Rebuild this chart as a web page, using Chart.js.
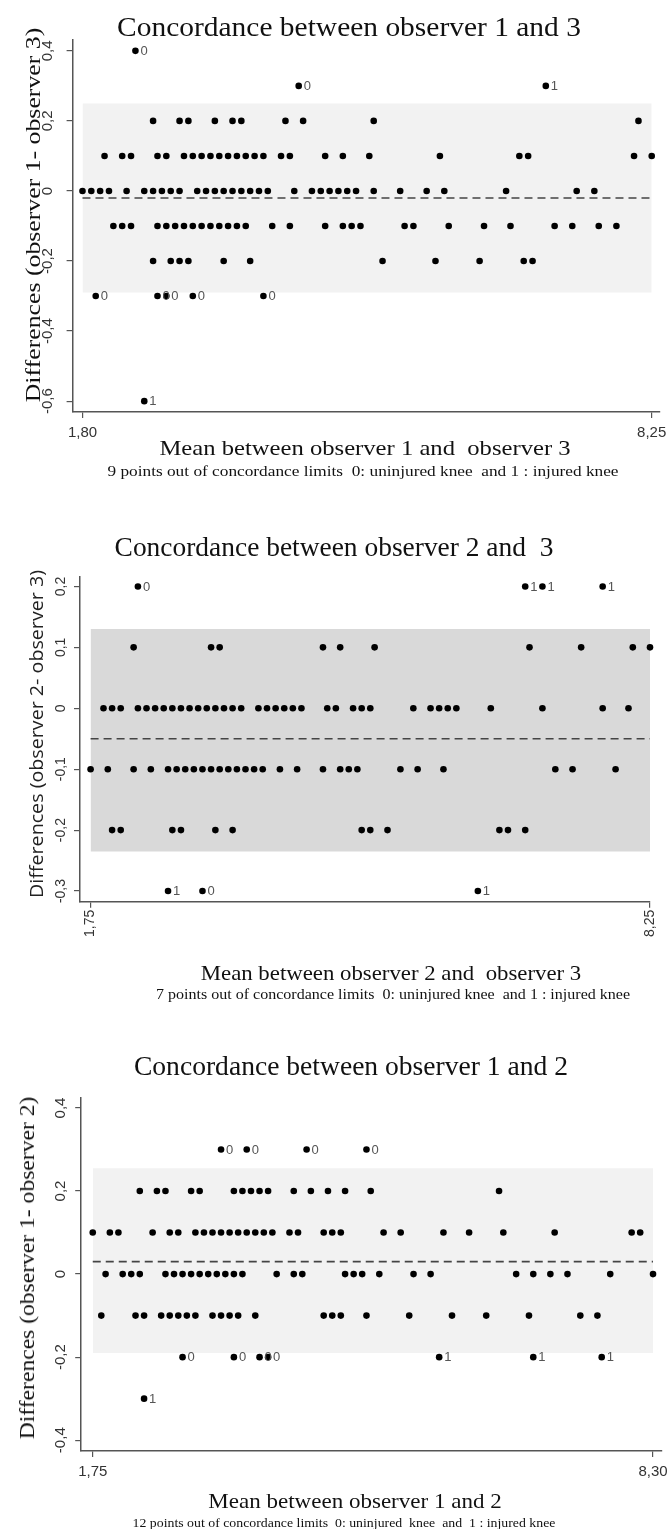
<!DOCTYPE html>
<html><head><meta charset="utf-8">
<script src="https://cdn.jsdelivr.net/npm/chart.js@4.4.0/dist/chart.umd.min.js"></script>
<style>
html,body{margin:0;padding:0;background:#fff;}
#page{position:relative;width:667px;height:1529px;overflow:hidden;background:#fff;}
canvas{position:absolute;left:0;}
.t{position:absolute;white-space:nowrap;line-height:1;color:#111;font-family:"Liberation Serif","Times New Roman",serif;transform-origin:50% 50%;}
.s{font-family:"Open Sans","Liberation Sans",sans-serif;color:#222;}
</style></head><body><div id="page">
<canvas id="c1" width="667" height="500" style="top:0px"></canvas>
<canvas id="c2" width="667" height="510" style="top:500px"></canvas>
<canvas id="c3" width="667" height="519" style="top:1010px"></canvas>

<div class="t" style="font-size:28px" data-cx="349" data-cy="27" data-w="464">Concordance between observer 1 and 3</div>
<div class="t" style="font-size:20px" data-cx="33" data-cy="215" data-w="375" data-rot="-90">Differences (observer 1- observer 3)</div>
<div class="t" style="font-size:22px" data-cx="365" data-cy="448" data-w="411">Mean between observer 1 and&nbsp; observer 3</div>
<div class="t" style="font-size:14px" data-cx="363" data-cy="472" data-w="511">9 points out of concordance limits&nbsp; 0: uninjured knee&nbsp; and 1 : injured knee</div>

<div class="t" style="font-size:27px" data-cx="334" data-cy="547" data-w="439">Concordance between observer 2 and&nbsp; 3</div>
<div class="t s" style="font-size:18px" data-cx="36" data-cy="734" data-w="328" data-rot="-90">Differences (observer 2- observer 3)</div>
<div class="t" style="font-size:21px" data-cx="391" data-cy="973" data-w="380">Mean between observer 2 and&nbsp; observer 3</div>
<div class="t" style="font-size:14px" data-cx="393" data-cy="995" data-w="474">7 points out of concordance limits&nbsp; 0: uninjured knee&nbsp; and 1 : injured knee</div>

<div class="t" style="font-size:27px" data-cx="351" data-cy="1066" data-w="434">Concordance between observer 1 and 2</div>
<div class="t" style="font-size:20px" data-cx="27" data-cy="1268" data-w="343" data-rot="-90">Differences (observer 1- observer 2)</div>
<div class="t" style="font-size:22px" data-cx="355" data-cy="1501" data-w="293">Mean between observer 1 and 2</div>
<div class="t" style="font-size:12px" data-cx="344" data-cy="1523" data-w="423">12 points out of concordance limits&nbsp; 0: uninjured&nbsp; knee&nbsp; and&nbsp; 1 : injured knee</div>
</div>
<script>
// ---------------- DATA ----------------
// Chart 1: observer 1 vs 3
const c1XTicks = [1.80, 8.25];
const c1XTickLabels = ['1,80', '8,25'];
const c1YTicks = [-0.6, -0.4, -0.2, 0, 0.2, 0.4];
const c1YTickLabels = ['-0,6', '-0,4', '-0,2', '0', '0,2', '0,4'];
const c1Bias = -0.02;
const c1Limits = [-0.29, 0.25];
const c1Row_p02 = [2.6, 2.9, 3.0, 3.3, 3.5, 3.6, 4.1, 4.3, 5.1, 8.1];
const c1Row_p01 = [2.05, 2.25, 2.35, 2.65, 2.75, 2.95, 3.05, 3.15, 3.25, 3.35, 3.45, 3.55, 3.65, 3.75, 3.85, 4.05, 4.15, 4.55, 4.75, 5.05, 5.85, 6.75, 6.85, 8.05, 8.25];
const c1Row_0 = [1.8, 1.9, 2.0, 2.1, 2.3, 2.5, 2.6, 2.7, 2.8, 2.9, 3.1, 3.2, 3.3, 3.4, 3.5, 3.6, 3.7, 3.8, 3.9, 4.2, 4.4, 4.5, 4.6, 4.7, 4.8, 4.9, 5.1, 5.4, 5.7, 5.9, 6.6, 7.4, 7.6];
const c1Row_m01 = [2.15, 2.25, 2.35, 2.65, 2.75, 2.85, 2.95, 3.05, 3.15, 3.25, 3.35, 3.45, 3.55, 3.65, 3.95, 4.15, 4.55, 4.75, 4.85, 4.95, 5.45, 5.55, 5.95, 6.35, 6.65, 7.15, 7.35, 7.65, 7.85];
const c1Row_m02 = [2.6, 2.8, 2.9, 3.0, 3.4, 3.7, 5.2, 5.8, 6.3, 6.8, 6.9];
const c1OutMean = [2.4, 4.25, 7.05, 1.95, 2.65, 2.75, 3.05, 3.85, 2.5];
const c1OutDiff = [0.4, 0.3, 0.3, -0.3, -0.3, -0.3, -0.3, -0.3, -0.6];
const c1OutKnee = ['0', '0', '1', '0', '0', '0', '0', '0', '1'];

// Chart 2: observer 2 vs 3
const c2XTicks = [1.75, 8.25];
const c2XTickLabels = ['1,75', '8,25'];
const c2YTicks = [-0.3, -0.2, -0.1, 0, 0.1, 0.2];
const c2YTickLabels = ['-0,3', '-0,2', '-0,1', '0', '0,1', '0,2'];
const c2Bias = -0.05;
const c2Limits = [-0.235, 0.13];
const c2Row_p01 = [2.25, 3.15, 3.25, 4.45, 4.65, 5.05, 6.85, 7.45, 8.05, 8.25];
const c2Row_0 = [1.9, 2.0, 2.1, 2.3, 2.4, 2.5, 2.6, 2.7, 2.8, 2.9, 3.0, 3.1, 3.2, 3.3, 3.4, 3.5, 3.7, 3.8, 3.9, 4.0, 4.1, 4.2, 4.5, 4.6, 4.8, 4.9, 5.0, 5.5, 5.7, 5.8, 5.9, 6.0, 6.4, 7.0, 7.7, 8.0];
const c2Row_m01 = [1.75, 1.95, 2.25, 2.45, 2.65, 2.75, 2.85, 2.95, 3.05, 3.15, 3.25, 3.35, 3.45, 3.55, 3.65, 3.75, 3.95, 4.15, 4.45, 4.65, 4.75, 4.85, 5.35, 5.55, 5.85, 7.15, 7.35, 7.85];
const c2Row_m02 = [2.0, 2.1, 2.7, 2.8, 3.2, 3.4, 4.9, 5.0, 5.2, 6.5, 6.6, 6.8];
const c2OutMean = [2.3, 6.8, 7.0, 7.7, 2.65, 3.05, 6.25];
const c2OutDiff = [0.2, 0.2, 0.2, 0.2, -0.3, -0.3, -0.3];
const c2OutKnee = ['0', '1', '1', '1', '1', '0', '1'];

// Chart 3: observer 1 vs 2
const c3XTicks = [1.75, 8.30];
const c3XTickLabels = ['1,75', '8,30'];
const c3YTicks = [-0.4, -0.2, 0, 0.2, 0.4];
const c3YTickLabels = ['-0,4', '-0,2', '0', '0,2', '0,4'];
const c3Bias = 0.03;
const c3Limits = [-0.19, 0.255];
const c3Row_p02 = [2.3, 2.5, 2.6, 2.9, 3.0, 3.4, 3.5, 3.6, 3.7, 3.8, 4.1, 4.3, 4.5, 4.7, 5.0, 6.5];
const c3Row_p01 = [1.75, 1.95, 2.05, 2.45, 2.65, 2.75, 2.95, 3.05, 3.15, 3.25, 3.35, 3.45, 3.55, 3.65, 3.75, 3.85, 4.05, 4.15, 4.45, 4.55, 4.65, 5.15, 5.35, 5.85, 6.15, 6.55, 7.15, 8.05, 8.15];
const c3Row_0 = [1.9, 2.1, 2.2, 2.3, 2.6, 2.7, 2.8, 2.9, 3.0, 3.1, 3.2, 3.3, 3.4, 3.5, 3.9, 4.1, 4.2, 4.7, 4.8, 4.9, 5.1, 5.5, 5.7, 6.7, 6.9, 7.1, 7.3, 7.8, 8.3];
const c3Row_m01 = [1.85, 2.25, 2.35, 2.55, 2.65, 2.75, 2.85, 2.95, 3.15, 3.25, 3.35, 3.45, 3.65, 4.45, 4.55, 4.65, 4.95, 5.45, 5.95, 6.35, 6.85, 7.45, 7.65];
const c3OutMean = [3.25, 3.55, 4.25, 4.95, 2.8, 3.4, 3.7, 3.8, 5.8, 6.9, 7.7, 2.35];
const c3OutDiff = [0.3, 0.3, 0.3, 0.3, -0.2, -0.2, -0.2, -0.2, -0.2, -0.2, -0.2, -0.3];
const c3OutKnee = ['0', '0', '0', '0', '0', '0', '0', '0', '1', '1', '1', '1'];

// ---------------- RENDER ----------------
function rowPts(means, d) { return means.map(m => ({x: m, y: d})); }

const kneeLabelPlugin = {
  id: 'kneeLabels',
  afterDatasetsDraw(chart) {
    const ctx = chart.ctx;
    chart.data.datasets.forEach((ds, i) => {
      if (!ds.knee) return;
      const meta = chart.getDatasetMeta(i);
      ctx.save();
      ctx.font = '13px "Liberation Sans", Arial, sans-serif';
      ctx.fillStyle = '#555';
      ctx.textAlign = 'left';
      ctx.textBaseline = 'middle';
      meta.data.forEach((el, j) => { ctx.fillText(ds.knee[j], el.x + 5, el.y + 0.5); });
      ctx.restore();
    });
  }
};

function makeChart(id, c) {
  const W = 667;
  const pts = [];
  c.rows.forEach(r => pts.push(...rowPts(r[0], r[1])));
  const outPts = c.outMean.map((m, i) => ({x: m, y: c.outDiff[i]}));
  const bx = [c.xTicks[0], c.xTicks[1]];
  return new Chart(document.getElementById(id), {
    type: 'scatter',
    data: {
      datasets: [
        {type: 'line', data: [{x: bx[0], y: c.limits[1]}, {x: bx[1], y: c.limits[1]}],
         fill: {value: c.limits[0]}, backgroundColor: c.band, borderWidth: 0, pointRadius: 0, order: 3},
        {type: 'line', data: [{x: bx[0], y: c.bias}, {x: bx[1], y: c.bias}],
         borderColor: '#444', borderWidth: 1.6, borderDash: [8, 5], pointRadius: 0, fill: false, order: 2},
        {data: pts, pointRadius: 3.3, pointBackgroundColor: '#000', pointBorderWidth: 0, clip: false, order: 1},
        {data: outPts, knee: c.outKnee, pointRadius: 3.3, pointBackgroundColor: '#000', pointBorderWidth: 0, clip: false, order: 1}
      ]
    },
    options: {
      responsive: false, animation: false,
      layout: {padding: {left: 0, top: c.area.t, right: W - c.area.r, bottom: 0}},
      plugins: {legend: {display: false}, title: {display: false}, tooltip: {enabled: false}},
      scales: {
        x: {
          type: 'linear', position: 'bottom', min: c.xMin, max: c.xMax,
          afterBuildTicks: s => { s.ticks = c.xTicks.map(v => ({value: v})); },
          afterFit: s => { s.height = c.H - c.area.b; s.paddingLeft = 0; s.paddingRight = 0; },
          ticks: {callback: (v, i) => c.xTickLabels[i], autoSkip: false,
                  font: {family: 'Liberation Sans', size: c.fs}, color: '#333',
                  padding: c.xPad, minRotation: c.xRot, maxRotation: c.xRot},
          grid: {display: true, drawOnChartArea: false, drawTicks: true, tickLength: 6, color: '#555', lineWidth: 1.2},
          border: {display: true, color: '#555', width: 1.5}
        },
        y: {
          type: 'linear', position: 'left', min: c.yMin, max: c.yMax,
          afterBuildTicks: s => { s.ticks = c.yTicks.map(v => ({value: v})); },
          afterFit: s => { s.width = c.area.l; s.paddingTop = 0; s.paddingBottom = 0; },
          ticks: {callback: (v, i) => c.yTickLabels[i], autoSkip: false,
                  font: {family: 'Liberation Sans', size: c.fs}, color: '#333',
                  padding: c.yPad, minRotation: 90, maxRotation: 90, crossAlign: 'center'},
          grid: {display: true, drawOnChartArea: false, drawTicks: true, tickLength: 6, color: '#555', lineWidth: 1.2},
          border: {display: true, color: '#555', width: 1.5}
        }
      }
    },
    plugins: [kneeLabelPlugin]
  });
}

makeChart('c1', {
  H: 500, area: {l: 72.6, t: 40, r: 660, b: 412},
  xMin: 1.688, xMax: 8.344, yMin: -0.631, yMax: 0.431,
  xTicks: c1XTicks, xTickLabels: c1XTickLabels, yTicks: c1YTicks, yTickLabels: c1YTickLabels,
  bias: c1Bias, limits: c1Limits, band: '#f2f2f2',
  rows: [[c1Row_p02, 0.2], [c1Row_p01, 0.1], [c1Row_0, 0], [c1Row_m01, -0.1], [c1Row_m02, -0.2]],
  outMean: c1OutMean, outDiff: c1OutDiff, outKnee: c1OutKnee,
  fs: 15, xPad: 6, yPad: 6, xRot: 0
});
makeChart('c2', {
  H: 510, area: {l: 80, t: 76.7, r: 650, b: 401.7},
  xMin: 1.627, xMax: 8.25, yMin: -0.3175, yMax: 0.216,
  xTicks: c2XTicks, xTickLabels: c2XTickLabels, yTicks: c2YTicks, yTickLabels: c2YTickLabels,
  bias: c2Bias, limits: c2Limits, band: '#d9d9d9',
  rows: [[c2Row_p01, 0.1], [c2Row_0, 0], [c2Row_m01, -0.1], [c2Row_m02, -0.2]],
  outMean: c2OutMean, outDiff: c2OutDiff, outKnee: c2OutKnee,
  fs: 14, xPad: 2, yPad: 1, xRot: 90
});
makeChart('c3', {
  H: 519, area: {l: 81.2, t: 88, r: 662, b: 441},
  xMin: 1.615, xMax: 8.405, yMin: -0.426, yMax: 0.424,
  xTicks: c3XTicks, xTickLabels: c3XTickLabels, yTicks: c3YTicks, yTickLabels: c3YTickLabels,
  bias: c3Bias, limits: c3Limits, band: '#f2f2f2',
  rows: [[c3Row_p02, 0.2], [c3Row_p01, 0.1], [c3Row_0, 0], [c3Row_m01, -0.1]],
  outMean: c3OutMean, outDiff: c3OutDiff, outKnee: c3OutKnee,
  fs: 15, xPad: 6, yPad: 1, xRot: 0
});

// fit text blocks to the measured extents
document.querySelectorAll('.t').forEach(el => {
  const cx = +el.dataset.cx, cy = +el.dataset.cy, w = +el.dataset.w, rot = +(el.dataset.rot || 0);
  const s = w / el.offsetWidth;
  el.style.left = cx + 'px';
  el.style.top = cy + 'px';
  el.style.transform = `translate(-50%,-50%) rotate(${rot}deg) scaleX(${s.toFixed(4)})`;
});
</script>
</body></html>
